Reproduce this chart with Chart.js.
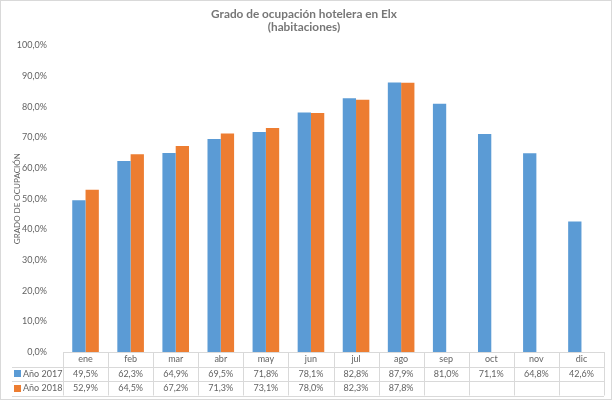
<!DOCTYPE html>
<html>
<head>
<meta charset="utf-8">
<script src="https://cdn.jsdelivr.net/npm/chart.js@4"></script>
<style>
  body { margin: 0; background: #fff; }
  canvas { display: block; }
</style>
</head>
<body>
<canvas id="chart" width="612" height="400"></canvas>
<script>
const meses = ['ene', 'feb', 'mar', 'abr', 'may', 'jun', 'jul', 'ago', 'sep', 'oct', 'nov', 'dic'];
const ocupacion2017 = [49.5, 62.3, 64.9, 69.5, 71.8, 78.1, 82.8, 87.9, 81.0, 71.1, 64.8, 42.6];
const ocupacion2018 = [52.9, 64.5, 67.2, 71.3, 73.1, 78.0, 82.3, 87.8];
const series = [
  { label: 'Año 2017', data: ocupacion2017, color: '#5B9BD5' },
  { label: 'Año 2018', data: ocupacion2018, color: '#ED7D31' },
];

const FONT = 'Lato, "Open Sans", sans-serif';
const GRAY = '#636363';
const LINE = '#d9d9d9';

function pct(v) {
  return v.toFixed(1).replace('.', ',') + '%';
}

// draws the data table below the plot (like excel's "tabla de datos")
const dataTable = {
  id: 'dataTable',
  beforeDraw(chart) {
    const ctx = chart.ctx;
    ctx.save();
    ctx.fillStyle = '#fff';
    ctx.fillRect(0, 0, chart.width, chart.height);
    ctx.strokeStyle = LINE;
    ctx.lineWidth = 1;
    ctx.strokeRect(0.5, 0.5, chart.width - 1, chart.height - 1);
    ctx.restore();
  },
  afterDraw(chart) {
    const ctx = chart.ctx;
    const area = chart.chartArea;
    const xs = chart.scales.x;
    const catW = (area.right - area.left) / meses.length;
    const rowH = 14.5;
    const top = area.bottom;
    const tableLeft = 12;

    ctx.save();
    ctx.strokeStyle = LINE;
    ctx.lineWidth = 1;
    ctx.beginPath();
    for (let r = 1; r <= 3; r++) {
      const y = Math.round(top + r * rowH) + 0.5;
      ctx.moveTo(tableLeft, y);
      ctx.lineTo(area.right, y);
    }
    for (let i = 0; i <= meses.length; i++) {
      const x = Math.round(area.left + i * catW) + 0.5;
      ctx.moveTo(x, top);
      ctx.lineTo(x, top + 3 * rowH);
    }
    ctx.stroke();

    ctx.font = '9px ' + FONT;
    ctx.fillStyle = GRAY;
    ctx.textAlign = 'center';
    ctx.textBaseline = 'middle';
    meses.forEach((m, i) => {
      const cx = xs.getPixelForValue(i);
      ctx.fillText(m, cx, top + rowH * 0.5);
    });
    series.forEach((s, r) => {
      const cy = top + rowH * (r + 1.5);
      s.data.forEach((v, i) => {
        ctx.fillStyle = GRAY;
        ctx.textAlign = 'center';
        ctx.fillText(pct(v), xs.getPixelForValue(i), cy);
      });
      ctx.fillStyle = s.color;
      ctx.fillRect(tableLeft + 2, Math.round(cy - 3.5), 7, 7);
      ctx.fillStyle = GRAY;
      ctx.textAlign = 'left';
      ctx.fillText(s.label, tableLeft + 11, cy);
    });
    ctx.restore();
  },
};

new Chart(document.getElementById('chart'), {
  type: 'bar',
  data: {
    labels: meses,
    datasets: series.map((s) => ({
      label: s.label,
      data: s.data,
      backgroundColor: s.color,
      borderWidth: 0,
      categoryPercentage: 0.59,
      barPercentage: 1,
    })),
  },
  options: {
    responsive: false,
    devicePixelRatio: 1,
    animation: false,
    layout: { padding: { top: 4, right: 8, bottom: 4, left: 4 } },
    plugins: {
      legend: { display: false },
      tooltip: { enabled: false },
      title: {
        display: true,
        text: ['Grado de ocupación hotelera en Elx', '(habitaciones)'],
        color: '#767676',
        font: { family: FONT, size: 11.8, weight: 'bold', lineHeight: 1.1 },
        padding: { top: 3.5, bottom: 12 },
      },
    },
    scales: {
      x: {
        grid: { display: false },
        border: { display: true, color: LINE },
        ticks: { display: false },
        afterFit(scale) { scale.height = 44; },
      },
      y: {
        min: 0,
        max: 100,
        grid: { display: false },
        border: { display: false },
        ticks: {
          stepSize: 10,
          color: GRAY,
          padding: 8,
          font: { family: FONT, size: 9 },
          callback: (v) => pct(v),
        },
        title: {
          display: true,
          text: 'GRADO DE OCUPACIÓN',
          color: GRAY,
          font: { family: FONT, size: 8 },
          padding: { top: 9, bottom: 0 },
        },
        afterFit(scale) { scale.width = 59; },
      },
    },
  },
  plugins: [dataTable],
});
</script>
</body>
</html>
